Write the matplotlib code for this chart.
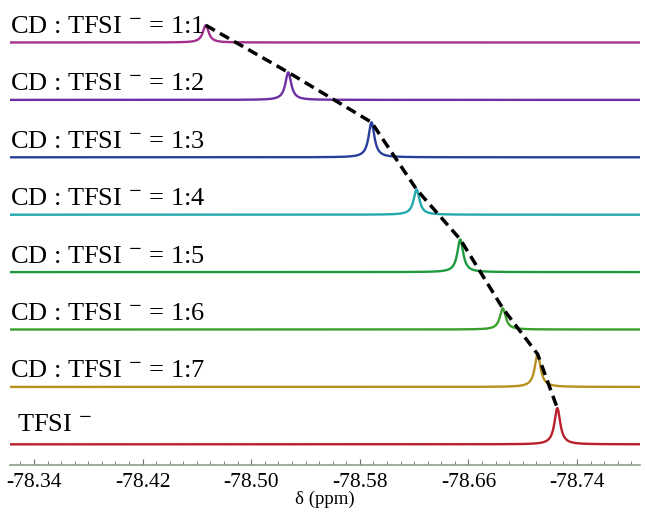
import numpy as np
import matplotlib.pyplot as plt
from matplotlib.ticker import FixedLocator

plt.rcParams.update({'font.family': 'Liberation Serif'})
plt.rcParams.update({'mathtext.fontset': 'stix'})

# sample labels, top to bottom
labels = ['CD : TFSI $^{-}$ = 1:1', 'CD : TFSI $^{-}$ = 1:2', 'CD : TFSI $^{-}$ = 1:3',
          'CD : TFSI $^{-}$ = 1:4', 'CD : TFSI $^{-}$ = 1:5', 'CD : TFSI $^{-}$ = 1:6',
          'CD : TFSI $^{-}$ = 1:7', 'TFSI $^{-}$']
# chemical shift of each peak (ppm) and peak height (offset units)
peak_pos = [-78.4665, -78.5273, -78.5886, -78.6218, -78.6540, -78.6853, -78.7110, -78.7255]
peak_height = [0.30, 0.48, 0.61, 0.44, 0.57, 0.37, 0.57, 0.63]
colors = ['#a3308f', '#6e2fa3', '#28409c', '#22a9ad', '#1e9a3e', '#3a9f2c', '#b8901e', '#b9202c']
xticks = [-78.34, -78.42, -78.50, -78.58, -78.66, -78.74]

fig = plt.figure(figsize=(6.45, 5.17), dpi=100, facecolor='w')
ax = fig.add_axes([10/645, 52/517, 630/645, 465/517])

x = np.linspace(-78.3223, -78.7864, 6000)
hw = 0.0026
n = len(labels)
for i in range(n):
    off = n - 1 - i
    y = off + peak_height[i] * hw**2 / ((x - peak_pos[i])**2 + hw**2)
    ax.plot(x, y, color=colors[i], lw=1.7)
    if i < n - 1:
        ax.text(-78.3223, off + 0.27, labels[i], fontsize=19, va='center', ha='left')
    else:
        ax.text(-78.3275, off + 0.33, labels[i], fontsize=19, va='center', ha='left')

tops = [n - 1 - i + peak_height[i] for i in range(n)]
ax.plot(peak_pos, tops, color='k', lw=2.5, ls=(0, (3.0, 1.7)))

ax.set_xlim(-78.3223, -78.7864)
ax.set_ylim(-0.36, 7.74)
for s in ['top', 'left', 'right']:
    ax.spines[s].set_visible(False)
ax.spines['bottom'].set_color('#8fa08f')
ax.spines['bottom'].set_linewidth(1.2)
ax.set_yticks([])
ax.xaxis.set_major_locator(FixedLocator(xticks))
ax.xaxis.set_minor_locator(FixedLocator(np.round(np.arange(-78.33, -78.79, -0.01), 2)))
ax.set_xticklabels(['%.2f' % t for t in xticks])
ax.tick_params(axis='x', which='major', direction='in', length=4, color='#707070', labelsize=15.5, pad=6)
ax.tick_params(axis='x', which='minor', direction='in', length=3, color='#707070')
ax.set_xlabel('δ (ppm)', fontsize=13.5, labelpad=-1)

plt.savefig('out.png', dpi=100)
